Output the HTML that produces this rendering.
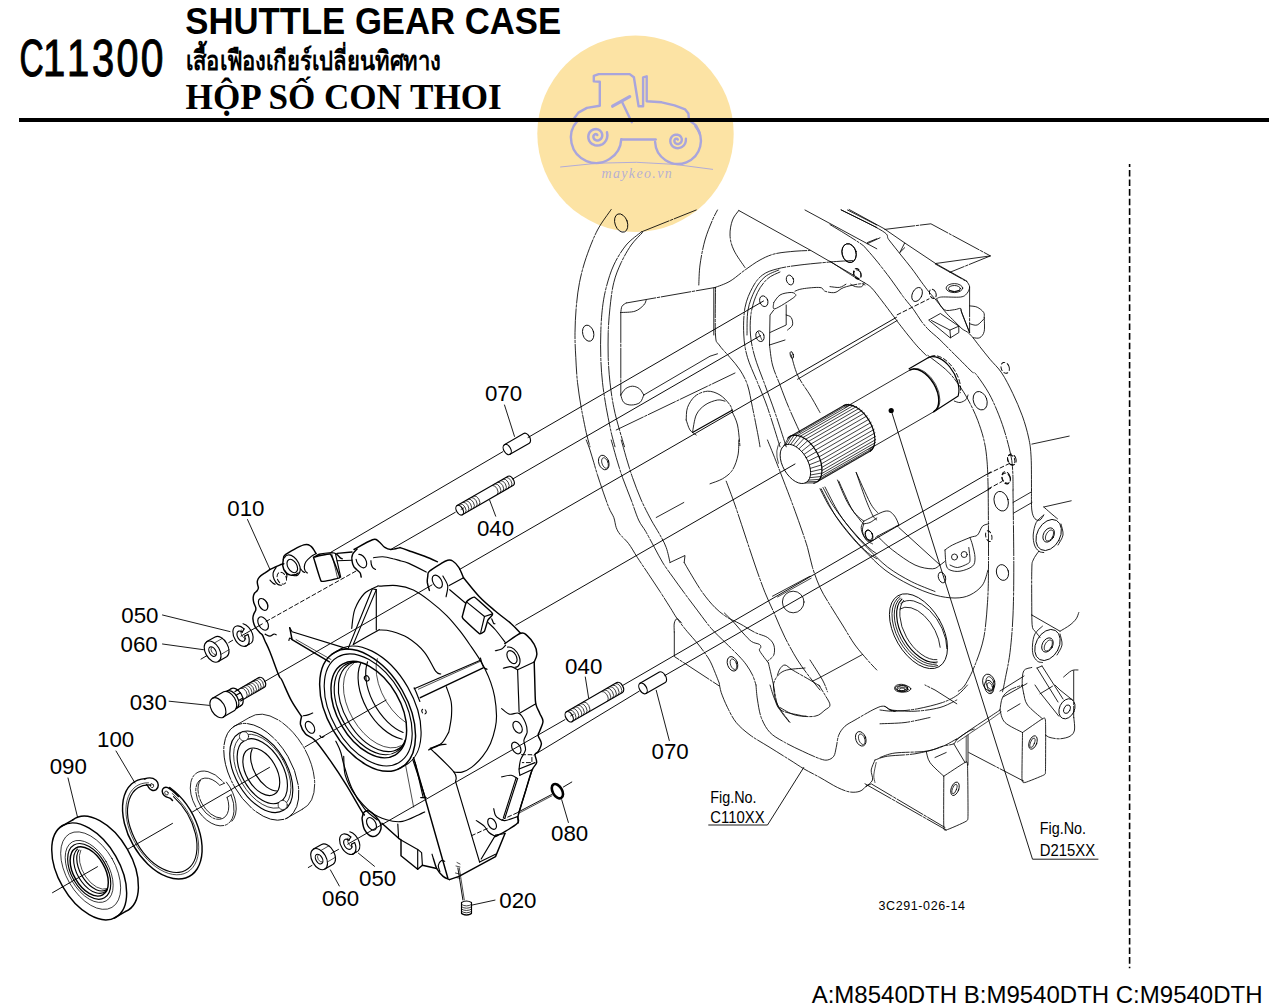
<!DOCTYPE html>
<html><head><meta charset="utf-8"><title>C11300 SHUTTLE GEAR CASE</title>
<style>
html,body{margin:0;padding:0;background:#fff;}
body{width:1269px;height:1007px;position:relative;overflow:hidden;font-family:"Liberation Sans",sans-serif;color:#000;}
#rule{position:absolute;left:19.3px;top:118.2px;width:1250px;height:3.4px;background:#000;}
#foot{position:absolute;right:6.5px;top:980px;font-size:24px;line-height:30px;white-space:nowrap;}
svg{position:absolute;left:0;top:0;overflow:visible;}
svg text{font-family:"Liberation Sans",sans-serif;fill:#000;stroke:none;}
#code text{font-size:52px;stroke:#000;stroke-width:1.1px;}
#lbl text{font-size:22.3px;}
#lbl #fig text{font-size:17.3px;}
#dg .ax{stroke-width:.95}
#dg .ld{stroke-width:.9}
#dg .pt{stroke-width:1.15}
#dg .hv{stroke-width:1.45}
#dg .thin{stroke-width:.7}
#dg .th{stroke-width:.75}
#dg .hid{stroke-width:.95;stroke-dasharray:4 2.6}
#dg .ph{stroke-width:.85;stroke-dasharray:30 1.6 2.4 1.6}
#dg .phs{stroke-width:.85}
</style></head><body>
<svg id="code" width="1269" height="1007" viewBox="0 0 1269 1007" aria-label="C11300">
<g id="ttl"><text transform="translate(185.3 33.8) scale(1 1.04)" style="font-size:34.7px;font-weight:bold;stroke:none">SHUTTLE GEAR CASE</text><text transform="translate(185.6 108.6)" style="font-family:'Liberation Serif',serif;font-size:35.1px;font-weight:bold;stroke:none">HỘP SỐ CON THOI</text></g>
<text transform="translate(19.4 75.6) scale(0.644 1)">C</text>
<text transform="translate(42.9 75.6) scale(0.77 1)">1</text>
<text transform="translate(67.1 75.6) scale(0.77 1)">1</text>
<text transform="translate(91.9 75.6) scale(0.768 1)">3</text>
<text transform="translate(116.4 75.6) scale(0.758 1)">0</text>
<text transform="translate(140.8 75.6) scale(0.785 1)">0</text>
</svg>
<svg id="wm" width="1269" height="1007" viewBox="0 0 1269 1007">
<circle cx="635.5" cy="133.7" r="98.2" fill="#fce3a4"/>
<path d="M577.4 120.9A25.2 25.2 0 1 0 621.3 139.1" fill="none" stroke="#a9a5dc" stroke-width="2.4" stroke-linecap="round" stroke-linejoin="round"/>
<path d="M621.5 139.5L655.7 139.5" fill="none" stroke="#a9a5dc" stroke-width="2.4" stroke-linecap="round" stroke-linejoin="round"/>
<path d="M655.1 142A22.9 22.9 0 1 0 695.4 126.1" fill="none" stroke="#a9a5dc" stroke-width="2.4" stroke-linecap="round" stroke-linejoin="round"/>
<path d="M573.7 119L578.4 112.6L586.9 107.9L599.8 105.7L599.8 81.8L593.8 81.4L593.8 75.8L598.7 74.1L629.7 74.1L633.9 77.3L638.6 106.2L643.1 106.2L643.1 77.3L646.7 76.3L646.7 101.2L661.7 102.3L674.5 105.3L685.2 109.4L688.4 113.6L689 120L695.9 125.4L699.7 132.9" fill="none" stroke="#a9a5dc" stroke-width="2.4" stroke-linecap="round" stroke-linejoin="round"/>
<path d="M612.6 106.2L629.7 96.6" fill="none" stroke="#a9a5dc" stroke-width="3.2" stroke-linecap="round" stroke-linejoin="round"/>
<path d="M622.2 102.3L631.8 122.2" fill="none" stroke="#a9a5dc" stroke-width="2.4" stroke-linecap="round" stroke-linejoin="round"/>
<path d="M607 132.3L607.4 135.2L607 138L606 140.6L604.3 142.8L602.2 144.4L599.7 145.3L597.2 145.6L594.7 145.2L592.4 144.2L590.6 142.7L589.2 140.8L588.5 138.6L588.3 136.4L588.7 134.3L589.6 132.4L591 130.9L592.7 129.8L594.5 129.2L596.4 129.1L598.2 129.5L599.7 130.4L601 131.6L601.8 133L602.2 134.5L602.2 136.1L601.8 137.5L601 138.7L600 139.6L598.9 140.2L597.7 140.5L596.5 140.4L595.4 140L594.5 139.4L593.9 138.6L593.5 137.7L593.4 136.8L593.5 135.9L593.9 135.2L594.4 134.7L595 134.3L595.6 134.1L596.2 134.2L596.7 134.3L597 134.6L597.3 135" fill="none" stroke="#a9a5dc" stroke-width="2.5" stroke-linecap="round" stroke-linejoin="round"/>
<path d="M685.9 138.8L685.8 141.1L685.2 143.3L683.9 145.3L682.3 146.7L680.4 147.7L678.3 148.2L676.2 148L674.3 147.4L672.6 146.3L671.4 144.8L670.6 143.1L670.3 141.2L670.4 139.5L671.1 137.8L672.1 136.4L673.4 135.4L674.9 134.8L676.4 134.6L677.9 134.8L679.3 135.3L680.4 136.2L681.2 137.4L681.7 138.6L681.8 139.9L681.6 141.1L681.1 142.2L680.3 143.1L679.4 143.7L678.3 144L677.3 144L676.4 143.8L675.6 143.3L675 142.7L674.6 142L674.4 141.2L674.4 140.5L674.7 139.8L675 139.3L675.5 138.9L676 138.7L676.6 138.6L677 138.7L677.4 139L677.7 139.2L677.8 139.6" fill="none" stroke="#a9a5dc" stroke-width="2.4" stroke-linecap="round" stroke-linejoin="round"/>
<path d="M560.2 167Q636.1 156.4 713 169.4" fill="none" stroke="#a9a5dc" stroke-width="0.9"/>
<text x="601.5" y="177.6" style="font-family:'Liberation Serif',serif;font-style:italic;font-size:14px;letter-spacing:1.35px;fill:#a9a5dc;fill-opacity:.85">maykeo.vn</text>
</svg>
<div id="rule"></div>
<svg id="thai" width="1269" height="1007" viewBox="0 0 1269 1007" role="img" aria-label="เสื้อเฟืองเกียร์เปลี่ยนทิศทาง"><text x="186" y="70.1" textLength="255" lengthAdjust="spacingAndGlyphs" style="font-family:serif;font-size:27px;font-weight:bold;fill:#000">เสื้อเฟืองเกียร์เปลี่ยนทิศทาง</text></svg>
<svg id="dg" width="1269" height="1007" viewBox="0 0 1269 1007" fill="none" stroke="#000" stroke-width="1" stroke-linecap="round" stroke-linejoin="round">
<path d="M1129.6 163.9V968.2" stroke-dasharray="6.6 3" stroke-dashoffset="3.6" stroke-width="1.6" stroke-linecap="butt"/>
<path d="M611.2 209.5C609 212.9 601.7 222 597.5 230C593.3 238 589.2 248.8 586.2 257.5C583.2 266.2 581.2 274.2 579.5 282.5C577.8 290.8 577 299.2 576.2 307.5C575.5 315.8 575.1 324.2 575 332.5C574.9 340.8 575.3 349.2 575.8 357.5C576.2 365.8 576.6 374.2 577.5 382.5C578.4 390.8 579.8 399.2 581.2 407.5C582.7 415.8 584.8 426 586.2 432.5C587.7 439 589.4 444.4 590 446.8" class="ph"/>
<path d="M641.2 232C638.8 234.2 630.8 239.5 626.2 245C621.7 250.5 617.1 257.9 613.8 265C610.4 272.1 608.1 280.4 606.2 287.5C604.4 294.6 603.4 300 602.5 307.5C601.6 315 601 324.2 600.8 332.5C600.5 340.8 600.5 349.2 600.8 357.5C601 365.8 601.6 374.2 602.5 382.5C603.4 390.8 604.8 399.2 606.2 407.5C607.7 415.8 609.8 426 611.2 432.5C612.7 439 614.4 444.4 615 446.8" class="ph"/>
<path d="M642.5 232.5C640.6 234.6 634.8 240 631.2 245C627.7 250 624.2 256.2 621.2 262.5C618.3 268.8 615.6 275 613.8 282.5C611.9 290 610.9 299.2 610 307.5C609.1 315.8 608.5 324.2 608.2 332.5C608 340.8 608 349.2 608.2 357.5C608.5 365.8 609.1 374.2 610 382.5C610.9 390.8 612.2 399.6 613.8 407.5C615.3 415.4 617.7 423.5 619.5 430C621.3 436.5 623.7 444 624.5 446.8" class="ph"/>
<path d="M641.2 232L696.2 210" class="ph"/>
<ellipse cx="621.2" cy="223" rx="6.2" ry="9.5" transform="rotate(-20 621.2 223)" class="phs"/>
<ellipse cx="588.2" cy="333.2" rx="5.5" ry="8.2" transform="rotate(-15 588.2 333.2)" class="phs"/>
<path d="M626.2 303L715 287.5" class="ph"/>
<path d="M626.2 303C625.5 303.5 622.9 304.7 622 306.2C621.1 307.8 621 311.5 620.8 312.5" class="phs"/>
<path d="M620.8 312.5C623.1 312.3 631.2 312.5 635 311.2C638.8 310 641.9 306.9 643.8 305C645.6 303.1 645.8 300.8 646.2 300" class="phs"/>
<path d="M620.8 312.5L620.8 395" class="ph"/>
<path d="M620.8 395C621.2 396.2 622 400.8 623.8 402.5C625.5 404.2 628.5 405 631.2 405C634 405 637.9 404.2 640 402.5C642.1 400.8 643.1 396.2 643.8 395" class="phs"/>
<path d="M620.8 395C621.5 394 623.5 390.2 625.5 388.8C627.5 387.3 630.2 386.2 632.5 386.2C634.8 386.2 637.6 387.3 639.5 388.8C641.4 390.2 643 394 643.8 395" class="phs"/>
<path d="M643.8 395L710 356.2L717.5 353.8" class="phs"/>
<path d="M616.2 430L735 373" class="ph"/>
<path d="M713.8 288L713.8 335" class="phs"/>
<path d="M715.5 287.5C715.5 295.4 714.9 325.4 715.5 335C716.1 344.6 716.8 341.2 719.2 345C721.7 348.8 726.5 353.3 730 357.5C733.5 361.7 737.1 365.4 740 370C742.9 374.6 745.4 378.8 747.5 385C749.6 391.2 750.8 399.6 752.5 407.5C754.2 415.4 756.2 426 757.5 432.5C758.8 439 759.6 444.4 760 446.8" class="ph"/>
<path d="M698.8 285C699 281.7 699 272.5 700 265C701 257.5 702.9 247.5 705 240C707.1 232.5 710.4 225 712.5 220C714.6 215 716.7 211.7 717.5 210" class="ph"/>
<path d="M738.8 210.5C737.7 212.1 734 215.9 732.5 220C731 224.1 729.8 230 730 235C730.2 240 731.2 244.6 733.8 250C736.2 255.4 743.1 264.6 745 267.5" class="ph"/>
<path d="M738.8 210.5L810 250L857.5 277.5" class="phs"/>
<path d="M715 287.5C717.5 286.5 725 284.2 730 281.2C735 278.3 740 273.5 745 270C750 266.5 755 262.7 760 260C765 257.3 769.2 255.2 775 253.8C780.8 252.3 789.2 251.8 795 251.2C800.8 250.7 807.5 250.6 810 250.5" class="ph"/>
<path d="M780 446.8C777.9 440.2 771.2 418.2 767.5 407.5C763.8 396.8 760.8 390.8 757.5 382.5C754.2 374.2 749.8 365.4 747.5 357.5C745.2 349.6 744.2 343.3 743.8 335C743.3 326.7 743.5 315.4 745 307.5C746.5 299.6 749.6 292.9 752.5 287.5C755.4 282.1 758.3 278.1 762.5 275C766.7 271.9 771.2 270.4 777.5 268.8C783.8 267.1 791.2 266.1 800 265C808.8 263.9 821.2 262.8 830 262C838.8 261.2 848.8 260.8 852.5 260.5" class="ph"/>
<path d="M786.2 446.8C784.4 441 778.5 422.8 775 412.5C771.5 402.2 768.3 394.2 765 385C761.7 375.8 757.4 365.8 755 357.5C752.6 349.2 751.1 342.5 750.5 335C749.9 327.5 750.1 319.6 751.2 312.5C752.4 305.4 754.8 298.1 757.5 292.5C760.2 286.9 763.8 282.2 767.5 278.8C771.2 275.3 777.9 273.1 780 272" class="ph"/>
<path d="M747 335C747.2 330.8 746.7 317.5 748 310C749.3 302.5 752.2 295.5 755 290C757.8 284.5 761 280.1 765 276.8C769 273.4 776.5 271.1 778.8 270" class="phs"/>
<path d="M773.8 302.5C774.8 301.2 777.3 296.7 780 295C782.7 293.3 787.5 292.7 790 292.5C792.5 292.3 794.4 292.9 795 293.8C795.6 294.6 797.1 295 793.8 297.5C790.4 300 778.3 307.9 775 308.8C771.7 309.6 774 303.5 773.8 302.5" class="phs"/>
<path d="M795 291.2C796.2 290.8 798.3 289.4 802.5 288.8C806.7 288.1 816.2 287.1 820 287.5C823.8 287.9 822.5 290.4 825 291.2C827.5 292.1 831.9 293.1 835 292.5C838.1 291.9 839.6 289 843.8 287.5C847.9 286 856.5 284.2 860 283.8C863.5 283.3 864.2 284.8 865 285" class="ph"/>
<path d="M773.8 310L770 315L769.5 345" class="phs"/>
<path d="M786.2 305L786.2 325L770 332.5" class="phs"/>
<path d="M786.2 315C787.1 315.4 790.2 315.8 791.2 317.5C792.3 319.2 793.1 322.9 792.5 325C791.9 327.1 788.3 329.2 787.5 330" class="phs"/>
<path d="M769.5 345L785 340" class="ph"/>
<path d="M769.5 345C770 348.3 770.8 358.3 772.5 365C774.2 371.7 777.3 377.9 780 385C782.7 392.1 785.4 399.6 788.8 407.5C792.1 415.4 798.1 428.3 800 432.5" class="ph"/>
<path d="M791.2 355C792.3 358.3 794.4 368.3 797.5 375C800.6 381.7 806.2 388.8 810 395C813.8 401.2 818.3 409.6 820 412.5" class="ph"/>
<ellipse cx="791.8" cy="355" rx="1.5" ry="3.5" transform="rotate(-15 791.8 355)" class="phs"/>
<ellipse cx="849.2" cy="253" rx="7" ry="9.5" transform="rotate(-15 849.2 253)" class="phs"/>
<ellipse cx="857.5" cy="274.5" rx="3.5" ry="4.8" transform="rotate(-20 857.5 274.5)" class="hid"/>
<ellipse cx="790" cy="280" rx="3.5" ry="5" transform="rotate(-20 790 280)" class="phs"/>
<ellipse cx="763.8" cy="301.2" rx="4" ry="5.5" transform="rotate(-20 763.8 301.2)" class="phs"/>
<ellipse cx="760" cy="336.2" rx="4" ry="5.5" transform="rotate(-20 760 336.2)" class="phs"/>
<path d="M758.2 332L762 340" class="thin"/>
<path d="M805 210L876.8 248.8" class="phs"/>
<path d="M841.2 210L876.8 227.5" class="phs"/>
<path d="M847.5 210L876.8 225" class="phs"/>
<path d="M867.5 242.5L876.8 238.8" class="phs"/>
<path d="M686.2 420C686.5 417.9 686 411.5 687.5 407.5C689 403.5 691.7 399 695 396.2C698.3 393.5 703.3 391.5 707.5 391.2C711.7 391 716.2 392.7 720 395C723.8 397.3 727.9 402.1 730 405C732.1 407.9 732.1 411.2 732.5 412.5" class="ph"/>
<path d="M692.5 432.5C693.1 429.6 694.2 419.6 696.2 415C698.3 410.4 701.5 407.5 705 405C708.5 402.5 714.2 400.6 717.5 400C720.8 399.4 723.8 401 725 401.2" class="phs"/>
<path d="M692.5 432.5L732.5 410" class="pt"/>
<path d="M686.2 420C686.9 421.7 688.3 427.5 690 430C691.7 432.5 695.2 434.2 696.2 435" class="phs"/>
<path d="M732.5 412.5C733.3 414.6 736.2 419.3 737.5 425C738.8 430.7 739.6 443.1 740 446.8" class="ph"/>
<path d="M797.5 379.3L897.2 320.5" class="phs"/>
<path d="M830 261.2C833.4 263.4 845 271.1 850.7 274.7C856.3 278.2 860.6 280.4 864.2 282.6C867.7 284.8 868.8 285.1 871.8 288.1C874.7 291.2 878.3 296.2 881.9 300.8C885.5 305.5 890.2 311.8 893.4 316.1C896.6 320.3 898 322.4 901 326.2C904 330.1 908.2 335.4 911.2 339C914.1 342.6 916.2 345.1 918.8 347.9C921.3 350.6 925.1 354.2 926.4 355.5" class="phs"/>
<path d="M927.8 355.4C931.1 358 942.3 366 947.7 371.3C953.1 376.6 956.7 381.9 960.4 387.2C964.1 392.5 967 397.6 969.9 403.1C972.8 408.7 975.4 414.1 977.8 420.5C980.2 426.9 982.7 434.3 984.2 441.2C985.8 448.1 986.4 453.8 987.1 461.9C987.8 470 988 485.3 988.2 490" class="ph"/>
<path d="M830 224.6C832.6 226.2 840.6 230.9 845.9 234.2C851.2 237.5 858.2 241.9 861.8 244.5C865.4 247.1 864.6 247 867.3 250C870 253 874.2 257.8 878.1 262.7C882 267.6 886.6 273.5 890.8 279.2C895.1 284.9 899.7 291.9 903.5 297C907.4 302.1 910.7 305.7 913.7 309.7C916.7 313.8 918.8 317.8 921.3 321.2C923.9 324.6 926 327.1 929 330.1C931.9 333 935.3 335.4 939.1 339C942.9 342.6 948 347.9 951.8 351.7C955.6 355.5 958.6 358.4 962 361.8C965.4 365.2 969.8 369.9 972.2 372C974.5 374.1 973.5 370.9 976.3 374.5C979.1 378.1 985.3 386.9 989 393.5C992.7 400.1 995.7 407.3 998.5 414.2C1001.3 421.1 1003.5 427.6 1005.6 434.8C1007.7 442 1010 450.7 1011.2 457.1C1012.4 463.5 1012.5 467.5 1012.8 473C1013.1 478.5 1013 487.2 1013.1 490" class="ph"/>
<path d="M841.1 209.8C848 213.3 874.5 226 882.4 231C890.3 236 885.7 235.7 888.8 239.7C891.9 243.7 897.3 250.4 901 255.1C904.7 259.8 907.8 263.3 911.2 267.8C914.6 272.2 918.4 277.7 921.3 281.8C924.3 285.8 926.4 288.8 929 291.9C931.5 295.1 933.6 297.2 936.6 300.8C939.5 304.4 943.8 310.2 946.7 313.5C949.7 316.9 951.8 318.6 954.4 321.2C956.9 323.7 959.5 326.7 962 328.8C964.5 330.9 966.7 330.9 969.6 333.9C972.6 336.8 976.4 342.3 979.8 346.6C983.2 350.8 986.3 354.9 990 359.3C993.6 363.7 997.9 367.2 1001.7 372.9C1005.5 378.6 1009.4 386.4 1012.8 393.5C1016.2 400.6 1019.6 408.4 1022.3 415.8C1025 423.2 1027.2 431.1 1028.7 438C1030.2 444.9 1030.6 448.4 1031.1 457.1C1031.6 465.8 1031.4 484.5 1031.5 490" class="phs"/>
<path d="M849.1 209.5L884 228.6L904.7 242.9L899.9 252.4" class="phs"/>
<path d="M884.8 229.4L930.9 223.8L990.4 255.9L949.9 272.3" class="ph"/>
<path d="M990.4 255.9L935.6 263.5" class="phs"/>
<path d="M904.7 242.9L935.6 263.5L966.6 281" class="phs"/>
<path d="M867.3 243.7L880 237.8" class="phs"/>
<path d="M899.9 252.4L904.7 247.7" class="phs"/>
<ellipse cx="849" cy="253.2" rx="7" ry="9.6" transform="rotate(-15 849 253.2)" class="phs"/>
<ellipse cx="857.2" cy="273.5" rx="3.6" ry="5.1" transform="rotate(-20 857.2 273.5)" class="hid"/>
<ellipse cx="917.1" cy="294.5" rx="4.8" ry="7.4" transform="rotate(25 917.1 294.5)" class="phs"/>
<ellipse cx="932.8" cy="293.8" rx="3.2" ry="4.8" transform="rotate(-20 932.8 293.8)" class="hid"/>
<ellipse cx="980.2" cy="400.7" rx="6.7" ry="9.5" transform="rotate(-20 980.2 400.7)" class="phs"/>
<ellipse cx="1005.2" cy="367.8" rx="4" ry="5.6" transform="rotate(-20 1005.2 367.8)" class="hid"/>
<ellipse cx="1012" cy="459.5" rx="4" ry="5.6" transform="rotate(-20 1012 459.5)" class="hid"/>
<ellipse cx="1006.1" cy="478.5" rx="4" ry="5.6" transform="rotate(-20 1006.1 478.5)" class="hid"/>
<path d="M897.2 314.8L929 298.9" class="hid"/>
<path d="M988.2 473.8L1009.6 463.4" class="hid"/>
<path d="M988.2 488.9L1001.7 481.7" class="hid"/>
<path d="M1031.9 444.1L1069.2 436.1" class="phs"/>
<ellipse cx="954.4" cy="288.1" rx="8.3" ry="4.5" class="phs"/><ellipse cx="954.4" cy="288.6" rx="6" ry="3.1" class="phs"/><path d="M949 290.3Q954.4 293 959.8 290.3" class="phs"/>
<path d="M935.3 264L967.1 281.8" class="ph"/>
<path d="M967.1 281.8C967.5 282.6 969.6 285 969.6 286.9C969.6 288.8 968.6 291.5 967.1 293.2C965.6 294.9 964.9 296.4 960.7 297C956.5 297.6 945.7 296.7 941.7 297C937.7 297.3 937.5 298.6 936.6 298.9" class="phs"/>
<path d="M969.6 286.9L969.6 332.6" class="ph"/>
<path d="M936.6 298.9C937.9 300.7 941.2 307.9 944.2 309.7C947.2 311.5 951.6 309.9 954.4 309.7C957.1 309.5 959.4 307.9 960.7 308.5C962 309.1 960.5 309.5 962 313.5C963.5 317.5 968.3 329.4 969.6 332.6" class="phs"/>
<path d="M960.7 309.7L969.6 332.6" class="phs"/>
<path d="M969.6 305.9C970.9 306.1 974.9 306.1 977.2 307.2C979.5 308.3 982.4 310.6 983.6 312.3C984.8 314 984.1 316.5 984.2 317.4" class="phs"/>
<path d="M984.2 317.4C984.2 319.7 984.9 327.9 984.2 331.3C983.5 334.7 981.6 336.6 979.8 337.7C978 338.8 974.5 337.7 973.4 337.7" class="phs"/>
<path d="M969.6 323.7C970.9 323.9 974.8 325.9 977.2 325C979.6 324.1 983 319.7 984.2 318.6" class="phs"/>
<path d="M929 319.9L940.4 313.5L958.8 326.2L958.8 332.6L950.6 337.7Z" class="phs"/>
<path d="M950.6 337.7L949.9 330.1L958.8 326.2" class="phs"/>
<path d="M949.9 330.1L931.5 320.5" class="phs"/>
<path d="M830 286.6C831.6 286.7 836.9 287.8 839.5 287.4C842.2 287 844.8 284.7 845.9 284.2" class="ph"/>
<path d="M864.2 282.6C863.8 283.3 863.2 285.9 861.8 286.6C860.3 287.2 857.3 287 855.4 286.6C853.6 286.2 851.4 284.6 850.7 284.2" class="phs"/>
<ellipse cx="795.4" cy="463.9" rx="12.5" ry="21.5" transform="rotate(-30 795.4 463.9)" class="phs"/><path d="M787.8 438.1A15.4 26.5 -30 1 1 813.9 483.3" class="pt"/><path d="M778.4 463.3A15.4 26.5 -30 0 1 780.4 442.2" class="thin"/><path d="M783.7 445.9L788.8 437.2" class="th"/><path d="M785.7 444.8L791.3 435.8" class="th"/><path d="M788.1 444.3L794.2 435.2" class="th"/><path d="M790.6 444.5L797.3 435.4" class="th"/><path d="M793.4 445.3L800.7 436.5" class="th"/><path d="M796.2 446.8L804.1 438.3" class="th"/><path d="M798.9 448.8L807.6 440.8" class="th"/><path d="M801.6 451.4L810.8 444" class="th"/><path d="M804 454.4L813.9 447.6" class="th"/><path d="M806.2 457.7L816.5 451.7" class="th"/><path d="M808 461.2L818.7 456" class="th"/><path d="M809.3 464.8L820.4 460.5" class="th"/><path d="M810.2 468.4L821.5 464.9" class="th"/><path d="M810.6 471.8L822 469.1" class="th"/><path d="M810.5 475L821.8 473" class="th"/><path d="M809.9 477.7L821 476.5" class="th"/><path d="M808.7 480.1L819.6 479.3" class="th"/><path d="M807.1 481.8L817.7 481.5" class="th"/><path d="M805.2 483L815.2 482.9" class="th"/><path d="M790.4 436.2L844.1 405.2" class="th"/><path d="M792.6 435.4L846.3 404.4" class="th"/><path d="M794.9 435.2L848.6 404.2" class="th"/><path d="M797.5 435.5L851.2 404.5" class="th"/><path d="M800.1 436.3L853.8 405.3" class="th"/><path d="M802.9 437.5L856.6 406.5" class="th"/><path d="M805.6 439.3L859.3 408.3" class="th"/><path d="M808.3 441.5L862 410.5" class="th"/><path d="M810.9 444L864.6 413" class="th"/><path d="M813.3 446.9L867 415.9" class="th"/><path d="M815.5 450.1L869.2 419.1" class="th"/><path d="M817.4 453.4L871.1 422.4" class="th"/><path d="M819.1 456.9L872.8 425.9" class="th"/><path d="M820.4 460.4L874.1 429.4" class="th"/><path d="M821.3 463.9L875 432.9" class="th"/><path d="M821.8 467.4L875.5 436.4" class="th"/><path d="M822 470.6L875.7 439.6" class="th"/><path d="M821.7 473.6L875.4 442.6" class="th"/><path d="M821.1 476.3L874.8 445.3" class="th"/><path d="M820 478.7L873.7 447.7" class="th"/><path d="M818.6 480.6L872.3 449.6" class="th"/><path d="M816.9 482.1L870.6 451.1" class="th"/><path d="M843.6 405.5A15.4 26.5 -30 0 1 870.1 451.3" class="pt"/><path d="M844.9 407.6L909.8 370.1" class="phs"/><path d="M868.9 449.2L933.8 411.7" class="phs"/><path d="M909.8 370.1A13.9 24 -30 0 1 933.8 411.7" class="hv"/><path d="M913.4 368.5A13.9 24 -30 0 1 936.1 410.2" class="thin"/><path d="M909.1 368.8L928.1 357.8" class="pt"/><path d="M928.1 357.8A14.8 25.5 -30 0 1 958.3 395.3" class="pt"/><path d="M931 356.3A14.8 25.5 -30 0 1 960.4 392.7" class="hid"/><path d="M933.8 411.7L958.2 395.9" class="pt"/>
<path d="M954.3 401C955.2 401.2 958 402.8 960 402.5C962 402.2 964.7 400.8 966 399.5C967.3 398.2 967.7 395.8 968 395" class="phs"/>
<path d="M586.2 440C586.9 441.7 588.8 446.2 590 450C591.2 453.8 592.5 458.3 593.8 462.5C595 466.7 596 470.4 597.5 475C599 479.6 600.6 484.6 602.5 490C604.4 495.4 606.9 502.9 608.8 507.5C610.6 512.1 612.5 514.2 613.8 517.5C615 520.8 615.2 524.7 616.2 527.5C617.3 530.3 617.9 531.6 620 534.3C622.1 537 625.7 539.8 628.6 543.6C631.5 547.4 633.9 552.1 637.2 557.2C640.5 562.3 644.8 568.6 648.6 574.3C652.4 580 656.4 586 660 591.5C663.6 597 667.1 602.7 670 607.2C672.9 611.7 674.3 614.7 677.2 618.7C680.1 622.8 683.9 627.5 687.2 631.5C690.5 635.5 694.1 639.2 697.2 643C700.3 646.8 703.4 650.9 705.8 654.4C708.2 657.9 709.3 659.2 711.5 664C713.7 668.8 717.9 679.8 719.2 683" class="ph"/>
<path d="M611.2 440C612.1 442.9 614.4 451.2 616.2 457.5C618.1 463.8 620 470.4 622.5 477.5C625 484.6 628.6 492.9 631.2 500C633.9 507.1 636.2 514.8 638.6 520C641 525.2 643.1 526.9 645.7 531.4C648.3 535.9 651.4 542 654.3 547.2C657.2 552.5 659.8 557.9 662.9 562.9C666 567.9 669.3 572.2 672.9 577.2C676.5 582.2 680.2 587.4 684.3 592.9C688.3 598.4 692.7 604.1 697.2 610.1C701.7 616.1 706.7 623.2 711.5 628.7C716.3 634.2 721.3 638.5 725.8 643C730.3 647.5 735.2 652.1 738.7 655.8C742.2 659.5 744.2 661.8 746.5 665C748.8 668.2 750.9 671.7 752.5 675C754.1 678.3 755.4 683.3 756 685" class="ph"/>
<path d="M621.2 440C622.1 442.9 624.4 451.2 626.2 457.5C628.1 463.8 630 470.4 632.5 477.5C635 484.6 638.1 492.9 641.2 500C644.4 507.1 648.1 514.2 651.2 520C654.4 525.8 657.5 530.4 660 535C662.5 539.6 664.6 542.9 666.2 547.5C667.9 552.1 669.4 560 670 562.5" class="ph"/>
<path d="M670 562.5L685 555.5L684.2 562.5" class="phs"/>
<path d="M684.2 562.5C685.2 564.2 687 567.5 690 572.5C693 577.5 698.3 586.7 702.5 592.5C706.7 598.3 710.8 603.3 715 607.5C719.2 611.7 723.3 614.8 727.5 617.5C731.7 620.2 735.4 621.2 740 623.8C744.6 626.2 750.4 630.2 755 632.5C759.6 634.8 764.4 635.4 767.5 637.5C770.6 639.6 772.7 642.1 773.8 645C774.8 647.9 774.8 652.3 773.8 655C772.7 657.7 768.5 660.2 767.5 661.2" class="ph"/>
<path d="M656.2 517.5L683.8 502.5" class="phs"/>
<ellipse cx="603.8" cy="462.5" rx="5" ry="7.5" transform="rotate(-20 603.8 462.5)" class="phs"/>
<ellipse cx="605" cy="463" rx="3" ry="5.5" transform="rotate(-20 605 463)" class="thin"/>
<path d="M738.8 440C738.6 442.5 739 450 738 455C737 460 735.1 466 732.5 470C729.9 474 726.2 476.5 722.5 478.8C718.8 481 712.1 482.9 710 483.8" class="ph"/>
<path d="M726.2 481.2C727.7 485.2 731.9 496 735 505C738.1 514 741.7 525 745 535C748.3 545 751.7 555.4 755 565C758.3 574.6 761.7 584.2 765 592.5C768.3 600.8 771.7 607.5 775 615C778.3 622.5 781.2 630 785 637.5C788.8 645 793.3 653.3 797.5 660C801.7 666.7 806.2 672.5 810 677.5C813.8 682.5 818.3 687.9 820 690" class="ph"/>
<path d="M767.5 440C769.2 444.2 773.8 455.4 777.5 465C781.2 474.6 786.2 487.5 790 497.5C793.8 507.5 797.1 516.7 800 525C802.9 533.3 805.4 540.4 807.5 547.5C809.6 554.6 810.4 560.8 812.5 567.5C814.6 574.2 817.1 581.2 820 587.5C822.9 593.8 826.2 598.8 830 605C833.8 611.2 838.3 618.3 842.5 625C846.7 631.7 850.8 639.2 855 645C859.2 650.8 863.9 655.8 867.5 660C871.1 664.2 875.2 668.3 876.8 670" class="ph"/>
<path d="M820 488.8C821.7 491.9 826.2 501.5 830 507.5C833.8 513.5 838.3 519.6 842.5 525C846.7 530.4 850.8 535.4 855 540C859.2 544.6 863.9 549.4 867.5 552.5C871.1 555.6 875.2 557.7 876.8 558.8" class="phs"/>
<path d="M823 487.5C824.7 490.5 829.2 499.7 833 505.5C836.8 511.3 841.3 517.2 845.5 522.5C849.7 527.8 853.9 532.6 858 537C862.1 541.4 866.9 546 870 548.8C873.1 551.5 875.6 552.9 876.8 553.8" class="phs"/>
<path d="M837.5 480C839.2 483.8 843.8 495.8 847.5 502.5C851.2 509.2 857.3 516.5 860 520C862.7 523.5 863.1 523.1 863.8 523.8" class="phs"/>
<path d="M856.2 472.5C857.7 476.7 862.3 490.4 865 497.5C867.7 504.6 870.5 511.2 872.5 515C874.5 518.8 876 519.2 876.8 520" class="phs"/>
<path d="M863.8 523.8C864.8 523.5 867.8 523.5 870 522.5C872.2 521.5 875.6 518.8 876.8 518" class="phs"/>
<path d="M863.8 523.8C863.5 525 862.1 528.5 862.5 531.2C862.9 534 864.6 537.9 866.2 540C867.9 542.1 871.5 543.1 872.5 543.8" class="phs"/>
<ellipse cx="869.2" cy="535.5" rx="3.5" ry="5.5" transform="rotate(-20 869.2 535.5)" class="phs"/>
<circle cx="793.2" cy="602" r="10.8" class="phs"/>
<path d="M772.5 596.2L810 576.2" class="phs"/>
<path d="M777.5 597L811.2 578.2" class="thin"/>
<path d="M681.5 623C680.8 622.3 678.4 618.7 677.2 618.7C676 618.7 674.8 620.8 674.3 623C673.8 625.2 674.3 630.5 674.3 632" class="phs"/>
<path d="M674.3 632L674.3 656.5L719.3 686" class="ph"/>
<path d="M724.4 613C726.1 614.7 731.3 619.7 734.4 623C737.5 626.3 740.1 629.9 743 633C745.9 636.1 748.8 639.6 751.5 641.5C754.2 643.4 757.9 643.4 759.4 644.4C760.9 645.4 760.8 646.2 760.8 647.2C760.8 648.2 759 648.7 759.4 650.1C759.8 651.5 761.5 653.7 763 655.8C764.5 657.9 767.5 661.7 768.4 662.9" class="phs"/>
<path d="M768.4 662.9C769.2 666.3 771.6 676.4 773.2 683.5C774.8 690.6 775.3 699.4 777.9 705.8C780.5 712.2 787.1 719.1 789 721.7" class="ph"/>
<path d="M805 668C801.5 668.5 789.3 668.7 784.3 670.8C779.2 672.9 776.4 676.9 774.7 680.4C773 683.9 773.2 686.7 774 691.5C774.8 696.3 775.2 705 779.5 709C783.8 713 795.6 714.1 800 715.3C804.4 716.5 805 715.9 806 716" class="ph"/>
<path d="M777.5 675C777.9 674 778.8 670.4 780 668.8C781.2 667.1 782.9 664.8 785 665C787.1 665.2 788.3 667.5 792.5 670C796.7 672.5 805.4 677.3 810 680C814.6 682.7 818.3 685.2 820 686.2" class="ph"/>
<path d="M812.5 681.2L820 677.5L862.5 654.5" class="phs"/>
<ellipse cx="732.5" cy="663.8" rx="5" ry="7.5" transform="rotate(-20 732.5 663.8)" class="phs"/>
<ellipse cx="733.5" cy="664.2" rx="3" ry="5.5" transform="rotate(-20 733.5 664.2)" class="thin"/>
<path d="M988.2 490C988.3 502.5 988.6 546.2 988.5 565C988.4 583.8 988.3 590.4 987.5 602.5C986.7 614.6 985.8 627.1 983.8 637.5C981.7 647.9 978.1 657.1 975 665C971.9 672.9 967.9 680.5 965 685C962.1 689.5 958.8 690.6 957.5 691.8" class="ph"/>
<path d="M1013 490C1013.1 502.5 1013.8 544.2 1013.8 565C1013.8 585.8 1013.6 600.4 1013 615C1012.4 629.6 1011.3 641.7 1010 652.5C1008.7 663.3 1006.2 673.5 1005 680C1003.8 686.5 1002.9 689.8 1002.5 691.8" class="ph"/>
<path d="M1031.5 490C1031.5 493.3 1031.2 505.2 1031.8 510C1032.3 514.8 1033.6 517.1 1035 518.8C1036.4 520.4 1038.5 520.6 1040 520C1041.5 519.4 1043.1 515.8 1043.8 515" class="phs"/>
<path d="M1013 502.5L1031.2 492" class="phs"/>
<path d="M1013.8 513L1032 502.5" class="phs"/>
<path d="M1043.8 507L1071.2 500.8" class="phs"/>
<ellipse cx="1048.7" cy="535" rx="11.5" ry="16.5" transform="rotate(28 1048.7 535)" class="phs"/><ellipse cx="1048.7" cy="535" rx="5.2" ry="7.6" transform="rotate(28 1048.7 535)" class="phs"/><ellipse cx="1049.5" cy="535.5" rx="3.4" ry="6" transform="rotate(28 1049.5 535.5)" class="thin"/>
<ellipse cx="1047.5" cy="645" rx="11.5" ry="16.5" transform="rotate(28 1047.5 645)" class="phs"/><ellipse cx="1047.5" cy="645" rx="5.2" ry="7.6" transform="rotate(28 1047.5 645)" class="phs"/><ellipse cx="1048.3" cy="645.5" rx="3.4" ry="6" transform="rotate(28 1048.3 645.5)" class="thin"/>
<path d="M1043.8 515C1042.5 516.2 1038 519.2 1036.2 522.5C1034.5 525.8 1033.5 531.2 1033.2 535C1033 538.8 1033.6 542.3 1034.5 545C1035.4 547.7 1037.2 550 1038.8 551.2C1040.3 552.5 1042.9 552.3 1043.8 552.5" class="phs"/>
<path d="M1038.8 551.2C1037.8 552.7 1034.4 556.9 1033.2 560C1032.1 563.1 1032 560.8 1031.8 570C1031.5 579.2 1031.8 607.5 1031.8 615" class="ph"/>
<path d="M1031.8 615C1031.9 617.1 1031.8 624.6 1032.5 627.5C1033.2 630.4 1035 630.8 1036.2 632.5C1037.5 634.2 1039.4 636.7 1040 637.5" class="phs"/>
<path d="M1042.5 626.2C1041.2 627.5 1036.7 630.6 1035 633.8C1033.3 636.9 1032.8 641.5 1032.5 645C1032.2 648.5 1032.4 652.3 1033.2 655C1034.1 657.7 1036 660 1037.5 661.2C1039 662.5 1041.7 662.3 1042.5 662.5" class="phs"/>
<path d="M1031.8 615L1060 631.2" class="phs"/>
<path d="M1060 631.2C1061.7 630.2 1067.3 627.1 1070 625C1072.7 622.9 1074.8 620.8 1076.2 618.8C1077.7 616.7 1078.3 613.5 1078.8 612.5" class="phs"/>
<path d="M1043.8 507C1044.8 507.9 1047.7 510.5 1050 512.5C1052.3 514.5 1056.2 517.7 1057.5 518.8" class="phs"/>
<ellipse cx="1001.2" cy="501.2" rx="7" ry="10" transform="rotate(-15 1001.2 501.2)" class="phs"/>
<ellipse cx="1002.5" cy="572.5" rx="6" ry="8" transform="rotate(-15 1002.5 572.5)" class="phs"/>
<ellipse cx="988.8" cy="682.5" rx="6" ry="8.5" transform="rotate(-15 988.8 682.5)" class="phs"/>
<ellipse cx="990" cy="683" rx="3.8" ry="6.5" transform="rotate(-15 990 683)" class="thin"/>
<ellipse cx="988.8" cy="536.2" rx="3" ry="5.5" transform="rotate(-15 988.8 536.2)" class="hid"/>
<ellipse cx="1011.2" cy="460" rx="3.5" ry="5.2" transform="rotate(-20 1011.2 460)" class="hid"/>
<ellipse cx="1006.2" cy="477.5" rx="4" ry="6" transform="rotate(-20 1006.2 477.5)" class="hid"/>
<path d="M945 550C946.2 549.2 948.3 547.1 952.5 545C956.7 542.9 965.8 539.2 970 537.5C974.2 535.8 975.4 536.9 977.5 535C979.6 533.1 980.6 528.1 982.5 526.2C984.4 524.4 987.7 524.2 988.8 523.8" class="phs"/>
<path d="M945 550C945.2 552.5 945.4 561.7 946.2 565C947.1 568.3 947.7 569 950 570C952.3 571 956.2 571.9 960 571.2C963.8 570.6 970 568.5 972.5 566.2C975 564 975 561 975 557.5C975 554 973.3 548.3 972.5 545C971.7 541.7 970.4 538.8 970 537.5" class="phs"/>
<path d="M950 565C951.2 565.4 954.6 567.7 957.5 567.5C960.4 567.3 965.4 565 967.5 563.8C969.6 562.5 969.8 562.7 970 560C970.2 557.3 969 549.6 968.8 547.5" class="phs"/>
<circle cx="954.5" cy="557" r="3" class="phs"/><circle cx="964.2" cy="554.5" r="3" class="phs"/>
<ellipse cx="942" cy="577.5" rx="3.5" ry="5.5" transform="rotate(-20 942 577.5)" class="phs"/>
<path d="M821.2 488.8C823.5 493.1 830.2 507.3 835 515C839.8 522.7 845.2 529.2 850 535C854.8 540.8 857.9 544.2 863.8 550C869.6 555.8 877.3 564.2 885 570C892.7 575.8 901.7 580.8 910 585C918.3 589.2 927.5 592.8 935 595C942.5 597.2 949.2 598 955 598C960.8 598 965.4 597.2 970 595C974.6 592.8 979.5 589.2 982.5 585C985.5 580.8 987.1 572.5 988 570" class="phs"/>
<path d="M825 487C827.3 491.3 834 505.3 838.8 513C843.5 520.7 849 527.2 853.8 533C858.5 538.8 861.9 542.3 867.5 548C873.1 553.7 880.2 561.4 887.5 567C894.8 572.6 903.3 577.4 911.2 581.5C919.2 585.6 931 589.8 935 591.5" class="phs"/>
<path d="M838.8 481.2C841 486 848.3 503.3 852.5 510C856.7 516.7 861.9 519.4 863.8 521.2" class="phs"/>
<path d="M856.2 472.5C858.5 477.5 866.5 495.8 870 502.5C873.5 509.2 876.2 510.8 877.5 512.5" class="phs"/>
<path d="M863.8 521.2C867.3 519.6 880 512.3 885 511.2C890 510.2 891.5 512.7 893.8 515C896 517.3 898.3 523.1 898.8 525C899.2 526.9 896.7 526 896.2 526.2" class="phs"/>
<path d="M863.8 521.2C863.3 522.3 861.2 525 861.2 527.5C861.2 530 862.3 534 863.8 536.2C865.2 538.5 868 540.8 870 541.2C872 541.7 874.2 539.6 875.5 538.8C876.8 537.9 873.6 538.5 877.5 536.2C881.4 534 895.2 526.9 898.8 525" class="phs"/>
<ellipse cx="868.8" cy="535" rx="3.5" ry="5.2" transform="rotate(-20 868.8 535)" class="phs"/>
<path d="M898.8 527.5L940 565" class="phs"/>
<path d="M877.5 536.2C880 538.5 886.2 545.2 892.5 550C898.8 554.8 908.3 561.9 915 565C921.7 568.1 928.3 568.8 932.5 568.8C936.7 568.8 937.9 566.2 940 565C942.1 563.8 944.2 561.9 945 561.2" class="phs"/>
<ellipse cx="918.5" cy="631.2" rx="23.8" ry="41" transform="rotate(-30 918.5 631.2)" class="phs"/>
<path d="M937.6 665.6A22.9 39.5 -30 0 1 900 596.3" class="phs"/>
<path d="M936.4 664.1A22 38 -30 0 1 900.4 598" class="phs"/>
<path d="M937.3 662A21.2 36.5 -30 0 1 901.9 599.2" class="pt"/>
<path d="M936.9 659.7A20.3 35 -30 0 1 903.7 600.3" class="phs"/>
<path d="M900.7 603.6A21.2 36.5 -30 0 1 946.9 648.6" class="phs"/>
<path d="M899.9 609A19.1 33 -30 0 1 940.2 647.3" class="phs"/>
<path d="M810 660C812.1 663.3 819.6 674.7 822.5 680C825.4 685.3 826.7 689.8 827.5 691.8" class="ph"/>
<ellipse cx="901.2" cy="687.5" rx="6.5" ry="3.2" class="phs"/>
<path d="M719.2 683C719.5 684.6 719.9 688.4 721.2 692.5C722.6 696.6 725 702.5 727.5 707.5C730 712.5 732.5 717.9 736.2 722.5C740 727.1 744.4 730.8 750 735C755.6 739.2 763.3 743.3 770 747.5C776.7 751.7 784.4 756.5 790 760C795.6 763.5 798.8 765.8 803.8 768.8C808.8 771.7 814.4 774.4 820 777.5C825.6 780.6 832.5 785.1 837.5 787.5C842.5 789.9 846.2 791.4 850 792C853.8 792.6 857.3 792.2 860 791.2C862.7 790.3 865.2 787.1 866.2 786.2" class="ph"/>
<path d="M756 685C756.2 687.5 756.6 694.6 757.5 700C758.4 705.4 759.2 712.1 761.2 717.5C763.3 722.9 766 728.3 770 732.5C774 736.7 779.6 739.4 785 742.5C790.4 745.6 796.7 748.5 802.5 751.2C808.3 754 815.8 757.3 820 758.8C824.2 760.2 825.2 760.4 827.5 760C829.8 759.6 832.3 758.3 833.8 756.2C835.2 754.2 835.4 751 836.2 747.5C837.1 744 837.3 738.5 838.8 735C840.2 731.5 842.3 728.8 845 726.2C847.7 723.8 850 722.9 855 720C860 717.1 870.2 711 875 708.8C879.8 706.5 881.2 706 883.8 706.2C886.2 706.5 888.1 709.2 890 710C891.9 710.8 894.2 711 895 711.2" class="ph"/>
<path d="M770 685C770.8 687.5 772.9 695.4 775 700C777.1 704.6 780 708.8 782.5 712.5C785 716.2 788.8 720.8 790 722.5" class="ph"/>
<path d="M780 707.5C782.5 708.8 789.2 713.5 795 715C800.8 716.5 810 717.1 815 716.2C820 715.4 822.5 711.9 825 710C827.5 708.1 830 707.5 830 705C830 702.5 826.9 698.3 825 695C823.1 691.7 819.8 686.7 818.8 685" class="ph"/>
<ellipse cx="860.8" cy="738.8" rx="5" ry="7.5" transform="rotate(-20 860.8 738.8)" class="phs"/>
<ellipse cx="861.8" cy="739.2" rx="3" ry="5.5" transform="rotate(-20 861.8 739.2)" class="thin"/>
<path d="M866.2 786.2C867.3 785.2 871.7 782.7 872.5 780C873.3 777.3 870.8 773.3 871.2 770C871.7 766.7 874.4 761.7 875 760" class="phs"/>
<path d="M875 782.5C874.8 781.2 873.5 778.3 873.8 775C874 771.7 875.8 764.6 876.2 762.5" class="thin"/>
<path d="M875 760C877.1 759.4 880.8 757.3 887.5 756.2C894.2 755.2 906.2 755.2 915 753.8C923.8 752.3 933 750 940 747.5C947 745 954 740.2 956.8 738.8" class="ph"/>
<path d="M866.2 786.2L871.2 783.8L945 827.5" class="ph"/>
<path d="M890 710C894.2 710.2 906.7 711.7 915 711.2C923.3 710.8 933 709.4 940 707.5C947 705.6 954 701.2 956.8 700" class="ph"/>
<path d="M956.8 703.8L935 690L925 685" class="ph"/>
<ellipse cx="901.2" cy="688.8" rx="6.5" ry="3.2" class="phs"/><ellipse cx="901.2" cy="689.5" rx="4" ry="1.8" class="thin"/>
<path d="M943.8 776.2C945.5 775.1 963 763.4 965 762.5C967 761.6 967.2 760.6 967.5 765C967.8 769.4 968.1 810.3 968 815C967.9 819.7 968.1 820 966.2 821.2C964.4 822.5 948.1 829.6 946.2 830C944.4 830.4 944 830.7 943.8 826.2C943.5 821.8 943.8 780.4 943.8 776.2" class="phs"/>
<ellipse cx="955" cy="788.8" rx="3.8" ry="7" transform="rotate(20 955 788.8)" class="phs"/>
<ellipse cx="954.5" cy="789" rx="2" ry="5" transform="rotate(20 954.5 789)" class="thin"/>
<path d="M865 783.8L946.2 830" class="ph"/>
<path d="M926.2 751.2C926.9 753.1 927.1 758.3 930 762.5C932.9 766.7 941.5 774 943.8 776.2" class="phs"/>
<path d="M935 757.5L946.2 752.5" class="phs"/>
<path d="M880 757.5C882.5 756.8 887.3 754 895 753C902.7 752 918.3 752.4 926.2 751.2C934.2 750.1 937.9 747.5 942.5 746.2C947.1 745 951.2 745 953.8 743.8C956.2 742.5 955 740.8 957.5 738.8C960 736.7 965.8 732.9 968.8 731.2C971.7 729.6 974 729.2 975 728.8" class="ph"/>
<path d="M953.8 743.8L965 762.5" class="phs"/>
<path d="M968 735L968 765" class="ph"/>
<path d="M966.2 736.2L966.2 762.5" class="thin"/>
<path d="M1022.5 732.5C1024.2 731.4 1040.6 719.7 1042.5 718.8C1044.4 717.8 1045.2 717 1045.5 721.2C1045.8 725.5 1045.6 765.5 1045.5 770C1045.4 774.5 1045.5 774 1043.8 775C1042 776 1026.8 782.2 1025 782.5C1023.2 782.8 1022.2 782.9 1022 778.8C1021.8 774.6 1022.5 736.4 1022.5 732.5" class="phs"/>
<ellipse cx="1033" cy="742.5" rx="3.8" ry="7" transform="rotate(20 1033 742.5)" class="phs"/>
<ellipse cx="1032.5" cy="742.8" rx="2" ry="5" transform="rotate(20 1032.5 742.8)" class="thin"/>
<path d="M968.8 752.5L1023.8 781.2" class="ph"/>
<path d="M1000 710C1000.8 712.1 1001.2 718.8 1005 722.5C1008.8 726.2 1019.6 730.8 1022.5 732.5" class="phs"/>
<path d="M1007.5 711.2L1020 703.8" class="phs"/>
<path d="M1000 710C1000.4 707.9 1000.8 700.8 1002.5 697.5C1004.2 694.2 1006.7 692.1 1010 690C1013.3 687.9 1020.4 685.8 1022.5 685" class="ph"/>
<path d="M1023.8 693.8C1024.4 695.6 1024.4 700.8 1027.5 705C1030.6 709.2 1040 716.5 1042.5 718.8" class="phs"/>
<ellipse cx="1067" cy="708.8" rx="7.5" ry="10.5" transform="rotate(25 1067 708.8)" class="phs"/>
<ellipse cx="1067" cy="709.2" rx="3" ry="4.5" transform="rotate(25 1067 709.2)" class="phs"/>
<path d="M1058.8 716.2L1040 692.5L1035 685" class="phs"/>
<path d="M1072.5 700L1060 690L1055 685" class="phs"/>
<path d="M1040 693.8L1052.5 686.2" class="phs"/>
<path d="M1073.8 717.5C1073.9 719.6 1075.1 726.9 1074.5 730C1073.9 733.1 1072.4 734.8 1070 736.2C1067.6 737.7 1063.3 738.5 1060 738.8C1056.7 739 1052.4 738.1 1050 737.5C1047.6 736.9 1046.2 735.4 1045.5 735" class="ph"/>
<ellipse cx="903.8" cy="688.8" rx="7" ry="3.3" class="phs"/><ellipse cx="903.8" cy="689.5" rx="4.2" ry="1.8" class="thin"/>
<path d="M880 710C882.5 710.2 888.8 711.5 895 711.2C901.2 711 909.6 710.2 917.5 708.8C925.4 707.3 935.8 704.8 942.5 702.5C949.2 700.2 953.3 697.9 957.5 695C961.7 692.1 965.8 686.7 967.5 685" class="ph"/>
<path d="M880 723.8C884.2 723.5 896.7 723.5 905 722.5C913.3 721.5 925.8 718.3 930 717.5" class="ph"/>
<path d="M885 706.2C885.8 706.8 888.3 708.7 890 709.5C891.7 710.3 894.2 711 895 711.2" class="phs"/>
<path d="M956.2 740C958.5 738.3 965.2 733.3 970 730C974.8 726.7 980 723.3 985 720C990 716.7 997.5 711.7 1000 710" class="phs"/>
<path d="M957.5 742C959.8 740.4 966.5 735.8 971.2 732.5C976 729.2 981.2 725.9 986.2 722.5C991.2 719.1 998.8 713.8 1001.2 712" class="thin"/>
<ellipse cx="989.2" cy="687" rx="4.5" ry="6.8" transform="rotate(-15 989.2 687)" class="phs"/>
<ellipse cx="990" cy="687.5" rx="2.5" ry="5" transform="rotate(-15 990 687.5)" class="thin"/>
<path d="M1061 524C1061.3 525.8 1063.5 531.5 1063 535C1062.5 538.5 1058.8 543.3 1058 545" class="ph"/>
<path d="M1060 634C1060.3 635.8 1062.5 641.5 1062 645C1061.5 648.5 1057.8 653.3 1057 655" class="ph"/>
<path d="M1073.7 670.7L1073.7 717.5" class="ph"/>
<path d="M1063.6 677C1064.9 676 1069.1 671.9 1071.5 670.7C1073.9 669.5 1076.9 670.1 1078 670" class="phs"/>
<path d="M1031.8 667.5C1030.5 668 1025.4 668.1 1023.8 670.7C1022.2 673.4 1022.2 679.6 1022.2 683.4C1022.2 687.2 1023.5 692 1023.7 693.7" class="phs"/>
<path d="M1000 691L1024 676" class="phs"/>
<path d="M1003 697L1027 683.5" class="phs"/>
<path d="M1037 668L1058 702" class="phs"/>
<path d="M1042 666L1063 699" class="phs"/>
<path d="M1037 668L1042 666" class="phs"/><path d="M301.6 716.5C299.9 713.9 294.7 706.8 291.4 700.7C288.1 694.6 283.9 684.2 281.8 680C279.7 675.8 280.8 680.1 278.8 675.4C276.8 670.7 272.3 657.7 270 652C267.7 646.3 266.4 644 265.1 641.2C263.8 638.4 263.3 636.4 262.4 635C261.5 633.6 260.9 633.8 259.9 632.7C258.9 631.7 257.3 630 256.4 628.7C255.4 627.4 254.8 626.4 254.2 624.7C253.6 623.1 253 620.5 252.9 618.8C252.8 617.1 253.2 615.7 253.7 614.3C254.2 612.9 255.4 611.4 255.7 610.3C256 609.1 256 608.7 255.7 607.4C255.4 606.1 254.1 604.1 253.7 602.4C253.3 600.7 253.1 598.9 253.2 597.4C253.3 595.9 253.8 594.5 254.4 593.4C255 592.3 256.2 591.9 256.9 591C257.6 590.1 258.3 589.1 258.4 588C258.5 586.9 257.8 585.7 257.6 584.5C257.4 583.3 257.1 582.1 257.4 580.8C257.7 579.5 258.2 578.2 259.5 576.9C260.8 575.6 263.2 574.1 265 572.9C266.8 571.6 269.2 570 270 569.4" class="hv"/>
<path d="M283.3 559.7C283.7 558.9 282 557.1 285.4 554.6C288.8 552.1 299.5 546.2 303.8 544.9C308.1 543.5 308.9 544.9 311 546.4C313 547.8 315.3 552.4 316.1 553.6" class="hv"/>
<path d="M316.1 553.6C315.3 554.1 312.7 555.3 311 556.6C309.3 558 307 560.1 305.9 561.8C304.8 563.5 304.4 565.3 304.3 566.9C304.2 568.4 304.8 570 305.3 571C305.9 572 307.1 572.7 307.4 573" class="pt"/>
<path d="M284.3 557.9A7 11.3 -30 1 1 292.7 575.2" class="pt"/>
<path d="M283.3 559.7C283.2 560.7 282.5 563.8 282.8 565.9C283.1 567.9 284.1 570.5 285.4 572C286.6 573.5 288.8 574.7 290.5 575.1C292.2 575.5 294.3 574.9 295.6 574.6C296.9 574.2 297.7 573.3 298.2 573" class="hv"/>
<path d="M300.7 568.9C301.1 569.4 302.1 570.9 302.8 571.5C303.5 572.1 304.5 572.3 304.8 572.5" class="pt"/>
<ellipse cx="292.3" cy="566" rx="4.5" ry="7.3" transform="rotate(-30 292.3 566)" class="pt"/>
<path d="M270 569.4C271.7 568.7 277.9 565.8 280.2 564.8C282.6 563.9 283.2 564 283.8 563.8" class="hv"/>
<ellipse cx="281.8" cy="578.2" rx="4.4" ry="6.2" transform="rotate(-25 281.8 578.2)" class="hid"/>
<path d="M276.1 567.4C275.6 568.3 273.4 571.1 273.1 573C272.7 575 273.3 577.3 274.1 579.2C274.9 581.1 276.5 583.3 277.7 584.3C278.9 585.3 280.7 585.2 281.3 585.3" class="pt"/>
<path d="M270 580.2C270.5 580.7 272.2 582.6 273.1 583.3C273.9 584 274.8 584.1 275.1 584.3" class="pt"/>
<path d="M285.4 571C285.6 571.7 286.7 573.9 286.9 575.1C287.1 576.3 286.5 577.6 286.4 578.2" class="pt"/>
<ellipse cx="263.1" cy="623.5" rx="4.5" ry="7.3" transform="rotate(-30 263.1 623.5)" class="pt"/>
<ellipse cx="263.1" cy="604.4" rx="4" ry="6.4" transform="rotate(-30 263.1 604.4)" class="pt"/>
<path d="M263.4 599.1A3.2 5.2 -30 0 1 267.7 607.5" class="thin"/>
<path d="M265.1 634.1C265.9 634.4 268.4 636.1 269.9 636.1C271.3 636.1 272.8 634.3 273.8 634.1C274.9 633.8 275.8 634.7 276.2 634.8" class="pt"/>
<path d="M313.5 557.2C314.2 557 329.4 553.3 330.5 554.1C331.5 554.9 340 576.6 339.7 577.6C339.3 578.7 322.3 582 321.2 581.2C320.2 580.4 313.9 558.1 313.5 557.2" class="hv"/>
<path d="M315.1 556.8C315.5 556.6 317.5 554.7 319.2 554.3C320.8 553.9 329.7 552.7 331.5 552.6C333.2 552.6 335.7 553.5 336.6 554.1C337.5 554.6 340.1 557.7 340.7 558.2C341.3 558.6 342.1 558.6 342.2 558.7" class="hv"/>
<path d="M335.6 554.4L340.7 577.1L339.7 577.6" class="pt"/>
<path d="M332 554.6L337.6 578.2" class="thin"/>
<path d="M337.1 553.4L352 552" class="hv"/>
<path d="M337.1 560.7L352 560.2" class="pt"/>
<path d="M354 549.5C357.1 547.8 368.4 541.1 372.5 539.7C376.6 538.4 376.6 540 378.6 541.3C380.7 542.6 382.7 546.1 384.8 547.4C386.8 548.8 388.4 549.4 390.9 549.5C393.4 549.5 398.5 547.9 400 547.6" class="hv"/>
<path d="M357.1 549C356.3 549.9 353.3 552.6 352.5 554.6C351.6 556.6 351.7 558.7 352 560.7C352.2 562.8 353.2 565.3 354 566.9C354.9 568.4 356.1 568.9 357.1 570C358.1 571 359.5 571.8 360.2 573C360.8 574.2 361 576.4 361.2 577.1" class="hv"/>
<path d="M370.9 560.7C371 561.4 371.1 563.6 371.4 564.8C371.8 566 372.3 567.1 373 567.9C373.7 568.7 375.1 569.2 375.5 569.4" class="pt"/>
<path d="M358.9 554.4A4.5 7.3 -30 1 1 356.1 559.3" class="pt"/>
<path d="M373.5 557.7C375 557.5 379.5 556.7 382.7 556.8C385.9 557 390.1 558 393 558.7C395.8 559.3 398.8 560.4 400 560.7" class="pt"/>
<path d="M400 547.6C401.5 548.1 404.7 549.2 408.9 550.7C413 552.1 420 554.4 424.7 556.2C429.5 558.1 435.3 560.8 437.5 561.8" class="hv"/>
<path d="M400 560.7C401.5 561.1 404.5 561.5 408.9 563.4C413.2 565.3 423.4 570.6 426.3 572.1" class="pt"/>
<path d="M429.4 590.4C429 589 427.6 584.8 427.3 582.4C427.1 580 427.5 577.9 427.8 576.1C428.1 574.2 427.1 573.4 429.4 571.3C431.6 569.2 438.3 565.2 441.3 563.4C444.3 561.5 445.8 560.6 447.7 560.2C449.6 559.8 450.9 559.8 452.7 561C454.6 562.2 457 564.6 458.8 567.3C460.6 570.1 462.7 575.9 463.5 577.7" class="hv"/>
<ellipse cx="437.3" cy="581.6" rx="4.3" ry="7" transform="rotate(-30 437.3 581.6)" class="pt"/>
<path d="M442.9 576.1C443.7 577.7 447.1 582.2 447.7 585.6C448.2 589 446.3 594.9 446.1 596.7" class="pt"/>
<path d="M463.5 577.7L449.2 585.6" class="pt"/>
<path d="M463.5 577.7C466.2 580.8 474.1 591.2 479.4 596.7C484.7 602.3 490 606.5 495.3 611C500.6 615.5 507 620 511.2 623.7C515.4 627.4 519.1 631.7 520.7 633.3" class="hv"/>
<path d="M449.7 589.7L465.7 603.3" class="pt"/>
<path d="M488 622.4C489.3 623.7 492.7 626.6 495.6 630C498.5 633.4 503.7 640.4 505.3 642.5" class="pt"/>
<path d="M462.2 616.8C462.5 615.9 465.7 603.1 466.4 601.9C467.1 600.7 472.9 596.6 474.4 597.2C475.9 597.9 490.9 611.6 492 612.7C493.1 613.7 492.5 614.7 492.3 615.1C492 615.5 488.4 619 487.9 620C487.5 620.9 485 630.3 484.5 631.1C484 631.9 480.5 634.4 479.3 633.6C478 632.9 464.6 620.3 463.6 619.3C462.6 618.3 462.3 617 462.2 616.8" class="hv"/>
<path d="M466.8 602.1L484.5 616.5L491.8 614.1" class="pt"/>
<path d="M484.5 616.5L480.7 632.3" class="pt"/>
<path d="M491.8 618.9C492.1 619.6 493 622.3 493.5 623.1C494 623.9 494.7 623.7 494.9 623.8" class="pt"/>
<path d="M504.8 643.6C507.5 641.9 517 634.6 520.7 633.3C524.4 631.9 524.8 633.8 527.1 635.6C529.3 637.5 532.6 641.3 534.2 644.4C535.9 647.4 536.9 651 536.9 653.9C536.9 656.8 534.7 660.5 534.2 661.9" class="hv"/>
<ellipse cx="512" cy="657.1" rx="4.3" ry="7" transform="rotate(-30 512 657.1)" class="pt"/>
<path d="M495.3 650.7C496.4 650.5 499.9 650.1 501.7 649.1C503.4 648.2 505 645.8 505.6 645.2" class="pt"/>
<path d="M503.3 668.2C504.6 667.9 508.8 666.4 511.2 666.6C513.6 666.9 516.5 669.3 517.6 669.8" class="pt"/>
<path d="M507.6 647.1A6.8 11 -30 1 1 515.1 667.2" class="pt"/>
<path d="M534.2 661.9L517.6 669.8" class="pt"/>
<path d="M534.2 661.9C534.4 666.5 534.8 683 535 690C535.3 697 535 699.9 535.8 703.8C536.6 707.7 538.6 710.4 539.8 713.4C541 716.3 543 718.4 543 721.3C543 724.2 540.6 728.5 539.8 730.8C539 733.2 537.9 733.5 538.2 735.6C538.5 737.7 541.4 740.9 541.4 743.5C541.4 746.2 539.3 749.6 538.2 751.5C537.1 753.3 535.3 752.8 535 754.7C534.8 756.5 537.1 760 536.6 762.6C536.1 765.3 533.7 765.8 531.9 770.5C530 775.3 527.7 783.8 525.5 791.2C523.2 798.6 519.7 809.7 518.3 815C517 820.3 520.1 820.1 517.6 823C515 825.9 507 830.3 503.3 832.5C499.5 834.8 496.6 835.8 495.3 836.5" class="hv"/>
<path d="M517.6 669.8C517.7 673.2 518.1 683 518.3 690C518.6 697 519 708.1 519.1 711.8" class="pt"/>
<path d="M501.7 708.6C503 709.5 506.7 713.4 509.6 714.2C512.5 714.9 516.5 711.9 519.1 713.4C521.8 714.8 524.2 719.7 525.5 722.9C526.8 726.1 527.3 729.5 527.1 732.4C526.8 735.3 524.2 737.5 523.9 740.4C523.6 743.3 526 746.7 525.5 749.9C525 753.1 521.8 756.3 520.7 759.4C519.7 762.6 519.3 766.3 519.1 769C519 771.6 519.8 774.3 519.9 775.3" class="pt"/>
<ellipse cx="517.6" cy="727.2" rx="4" ry="6.4" transform="rotate(-30 517.6 727.2)" class="pt"/>
<ellipse cx="516.3" cy="748" rx="4" ry="6.4" transform="rotate(-30 516.3 748)" class="pt"/>
<path d="M501.7 776.9C503.3 776.6 508.6 775 511.2 775.3C513.8 775.6 516.5 778 517.6 778.5" class="pt"/>
<path d="M519.1 769L535 762.6" class="pt"/>
<path d="M519.9 775.3L531.9 769.8" class="pt"/>
<path d="M519.1 713.4L535.8 703.8" class="pt"/>
<path d="M517.6 778.5L504.8 818.2" class="pt"/>
<path d="M531.9 770.5L519.1 811.9" class="pt"/>
<path d="M521.5 754.7L531.9 754.7L531.9 762.6L522.3 762.6" class="hid"/>
<ellipse cx="492.1" cy="823.8" rx="3.7" ry="6" transform="rotate(-30 492.1 823.8)" class="pt"/>
<path d="M493.7 808.7C494 809.7 494.5 813.4 495.3 815C496.1 816.6 496.9 817.3 498.5 818.2C500.1 819.1 501.7 820.9 504.8 820.6C508 820.3 515.4 817.3 517.6 816.6" class="pt"/>
<path d="M476.3 820.6C477.6 821.5 482.1 824.2 484.2 826.1C486.3 828.1 487.1 830.8 489 832.5C490.8 834.2 494.3 835.8 495.3 836.5" class="pt"/>
<path d="M517.6 816.6L518.3 823" class="pt"/>
<path d="M501.7 819.8L517.6 812.6" class="hid"/>
<path d="M471.5 835.7L489 827.7" class="hid"/>
<path d="M505 833.5L495.5 856.6L459 876.4L449.4 879.6" class="hv"/>
<path d="M449.4 879.6C448.4 879.1 445.2 878.3 443.1 876.4C441 874.6 438.3 871.4 436.7 868.5C435.1 865.6 434.1 860.5 433.5 859" class="hv"/>
<path d="M433.5 859L432 854.2" class="pt"/>
<path d="M381.9 823.2L398.6 838.3L401 839.9L401 855.8L417.7 869.3L422.4 865.3L436.7 868.5" class="hv"/>
<path d="M401 839.9L417.7 849.4L417.7 869.3" class="pt"/>
<path d="M417.7 849.4L421.6 852.6L422.4 865.3" class="pt"/>
<path d="M439.9 871.7C439.6 870.6 438 867.2 438.3 865.3C438.6 863.5 440.4 861.2 441.5 860.5C442.5 859.9 444.1 861.2 444.7 861.3" class="pt"/>
<path d="M397.8 824L398.6 838.3" class="pt"/>
<path d="M413.6 757.8L447.8 878" class="hv"/>
<path d="M455.6 781.7L479.6 862.1" class="pt"/>
<path d="M479.6 862.1L495.5 854.2" class="pt"/>
<path d="M481.2 859L495.5 835.1L505 833.5" class="pt"/>
<path d="M516.1 777.9L503.4 817.7" class="pt"/>
<path d="M362 818.2C362.4 817.1 362.9 812.9 364.4 811.9C365.8 810.8 368.1 810 370.7 811.9C373.4 813.7 378.8 819.5 380.3 823C381.7 826.4 380.8 830.3 379.5 832.5C378.1 834.8 374.8 837 372.3 836.5C369.8 835.9 366.1 832.4 364.4 829.3C362.7 826.3 362.4 820.1 362 818.2" class="hv"/>
<ellipse cx="371.5" cy="823.8" rx="4.2" ry="6.8" transform="rotate(-30 371.5 823.8)" class="pt"/>
<path d="M301.6 716.5C301.4 717.9 299.9 721.6 300.5 724.5C301.2 727.4 303.2 731.4 305.6 734C308 736.7 311.2 736.1 315.1 740.4C319.1 744.6 324.4 752.3 329.4 759.4C334.5 766.6 340 774.8 345.3 783.3C350.6 791.7 358 805 361.2 810.3C364.4 815.6 363.8 814.2 364.4 815" class="hv"/>
<ellipse cx="310" cy="727.3" rx="4" ry="6.5" transform="rotate(-30 310 727.3)" class="pt"/>
<path d="M303.2 715.7C304.1 715.6 307.2 715.1 308.8 714.6C310.4 714.2 312.1 713.3 312.7 713" class="pt"/>
<path d="M319.9 735.6C320.2 735.9 320.8 737.4 321.5 737.5C322.1 737.6 323.5 736.6 323.9 736.4" class="pt"/>
<path d="M335.8 741.2C336.6 742.9 339.2 747.6 340.5 751.5C341.9 755.3 341.9 758.1 343.7 764.2C345.6 770.3 348.2 780.6 351.7 788C355.1 795.4 360.1 803.4 364.4 808.7C368.6 814 375 817.9 377.1 819.8" class="pt"/>
<path d="M343.7 756.3C344 759.4 343.5 769 345.3 775.3C347.2 781.7 350.6 788.3 354.8 794.4C359.1 800.5 365.4 807.6 370.7 811.9C376 816.1 381.3 818.2 386.6 819.8C391.9 821.4 397.2 822.2 402.5 821.4C407.8 820.6 414.7 816.6 418.4 815C422.1 813.4 423.7 812.4 424.7 811.9" class="pt"/>
<path d="M351.7 628.5C352.2 625.3 352.7 615.3 354.8 609.4C357 603.6 360.7 597.4 364.4 593.5C368.1 589.7 374.5 587.6 377.1 586.4C379.7 585.2 376.7 586.2 380 586.1C383.3 586 391.1 585 396.7 585.6C402.3 586.2 407.8 587.4 413.4 590C418.9 592.6 424.4 596.8 430 601.1C435.6 605.4 441.7 610.6 446.7 615.6C451.7 620.6 456 626 460.1 631.2C464.2 636.4 467.9 641.9 471.2 646.7C474.5 651.5 477.8 656.3 480.1 660.1C482.4 663.9 483.3 665.5 485.1 669.3C486.9 673 489.2 678 490.8 682.6C492.4 687.2 493.7 691.2 494.6 696.7C495.6 702.2 496.4 710.4 496.5 715.6C496.6 720.8 496.3 723.1 495.3 727.7C494.3 732.4 492.6 738.7 490.5 743.5C488.4 748.3 485.8 752.3 482.6 756.3C479.4 760.3 474.9 764.8 471.5 767.4C468.1 770 464.9 771.3 462 772.1C459.1 772.9 455.3 772.1 454 772.1" class="pt"/>
<path d="M353.3 644.4C357.2 642.1 372.6 633.3 377.1 630.9C381.5 628.5 377.7 629.9 380 630C382.3 630.1 386.5 629.9 391.1 631.2C395.7 632.5 402.2 634.3 407.8 637.8C413.4 641.3 419.9 646.7 424.5 652.3C429.1 657.9 432.9 667.6 435.6 671.2C438.3 674.8 439.9 673.5 440.7 674" class="pt"/>
<path d="M446.3 686.8C447.1 689.2 450.2 696.7 451.1 701.5C452 706.3 451.8 710.9 451.5 715.6C451.2 720.4 449.8 726.9 449.2 730C448.6 733.1 449 731.8 447.7 734C446.4 736.2 444.2 741.1 441.3 743.5C438.4 745.9 432.1 747.5 430.2 748.3" class="pt"/>
<path d="M372.3 588.8L348.5 647.6" class="pt"/>
<path d="M376.3 589.6L353.3 644.4" class="pt"/>
<path d="M372.3 588.8L376.3 589.6L376.3 630.1" class="pt"/>
<path d="M289.7 627.7L292.1 631.7L348.5 649.1" class="pt"/>
<path d="M289.7 627.7L292.1 639.6L329.4 661.9" class="hv"/>
<path d="M292.1 639.6C291.7 639.3 290.2 637.9 289.7 638C289.2 638.2 289.1 640 288.9 640.4" class="pt"/>
<path d="M296.1 639.6L331 659.5" class="thin"/>
<path d="M414.2 688.7L480.4 660.3" class="pt"/>
<path d="M418.4 689.2L480.4 661.3" class="thin"/>
<path d="M420.3 697.7L483.2 667.9" class="hv"/>
<path d="M414.2 687.8C414.6 688.7 415.6 690.7 416.5 693C417.4 695.3 419.3 700.1 419.9 701.5" class="pt"/>
<path d="M480.4 658C480.9 659.4 482.1 664.6 483.2 666.5C484.3 668.4 486.4 668.8 487 669.3" class="pt"/>
<ellipse cx="367.6" cy="710.2" rx="39.9" ry="66.5" transform="rotate(-30 367.6 710.2)" class="hv"/><ellipse cx="368.2" cy="709.9" rx="36.6" ry="61" transform="rotate(-30 368.2 709.9)" class="pt"/><ellipse cx="368.8" cy="709.6" rx="31.5" ry="52.5" transform="rotate(-30 368.8 709.6)" class="hv"/><path d="M405.2 740A30.3 50.5 -30 1 1 357 662.2" class="pt"/><path d="M403.9 743.9A29.4 49 -30 1 1 355 662.1" class="pt"/><path d="M401.3 745.6A28.5 47.5 -30 1 1 353.8 663.3" class="thin"/><path d="M337.1 651.3A39.9 66.5 -30 1 1 403.3 766.1" class="pt"/><path d="M331.5 654.6L337.1 651.3" class="pt"/><path d="M397.7 769.3L403.3 766.1" class="pt"/><path d="M402.2 739.2A28.8 48 -30 0 1 360.6 663.6" class="pt"/><path d="M403.1 732.5A28.2 47 -30 0 1 367.6 661.8" class="pt"/><path d="M405.6 722.4A27.6 46 -30 0 1 377.3 658.6" class="thin"/>
<ellipse cx="366.6" cy="678.2" rx="2.2" ry="2.8" class="pt" transform="rotate(-30 367 678)"/>
<ellipse cx="424" cy="711.5" rx="2" ry="2.6" class="hid" transform="rotate(-30 424 711.5)"/>
<path d="M405.7 765.8L413.6 807.1" class="thin"/>
<path d="M415.2 762.6L423.2 797.6" class="pt"/>
<path d="M430.2 748.3C434.2 752.3 449.8 766.6 454 772.1C458.2 777.7 455.3 780.1 455.6 781.7" class="pt"/>
<path d="M412.7 759.4L425.4 797.6" class="pt"/>
<path d="M420.7 797.6L426.2 797.6" class="pt"/>
<path d="M428.6 749.9C430.4 749.1 436.8 746.1 439.7 745.1C442.6 744.2 445 744.5 446.1 744.3" class="pt"/><path d="M52.5 892.7L97.5 866.7" class="ax"/>
<path d="M128 849.1L172.5 823.4" class="ax"/>
<path d="M192.5 811.9L269.5 767.4" class="ax"/>
<path d="M305 746.9L386 700.1" class="ax"/>
<path d="M515.7 625.2L795 464" class="ax"/>
<path d="M201 659.1L206.8 655.7" class="ax"/>
<path d="M228.7 642.6L232.6 640.3" class="ax"/>
<path d="M241 636.1L262.3 623.9" class="ax"/>
<path d="M266 621.5L357 570.5" class="hid"/>
<path d="M390.7 549.5L455.3 512.3" class="ax"/>
<path d="M512.7 479L760.5 335.6" class="ax"/>
<path d="M331 552.2L502.8 451.7" class="ax"/>
<path d="M528 437.5L763.5 301" class="ax"/>
<path d="M264.2 681.8L432 584.9" class="ax"/>
<path d="M459.5 569.5L896.5 317.3" class="ax"/>
<path d="M308.3 867.5L312 865.4" class="ax"/>
<path d="M331 853.6L338.5 849.4" class="ax"/>
<path d="M347.7 844.2L565 719.6" class="ax"/>
<path d="M622.6 685.5L990.7 472" class="ax"/>
<path d="M534 755L639.2 691.2" class="ax"/>
<path d="M664.7 675.6L990.7 488.2" class="ax"/>
<path d="M517.8 812.3L551.5 794.6" class="ax"/>
<path d="M518.3 813.5L552 795.8" class="thin"/>
<path d="M563.4 787L571.8 782" class="ax"/>
<path d="M457.9 868L462.9 900" class="ax"/>
<path d="M459.3 868L464.3 900" class="thin"/>
<path d="M504.5 405L514.5 436.4" class="ld"/>
<path d="M247.5 519.5L270 569.5" class="ld"/>
<path d="M162.5 615L230 631.6" class="ld"/>
<path d="M162.5 644L203.5 649.7" class="ld"/>
<path d="M169.1 701.2L209.4 705.4" class="ld"/>
<path d="M489.7 500.3L495.7 516.2" class="ld"/>
<path d="M585.3 677L588.6 697.8" class="ld"/>
<path d="M656.2 690.3L669.3 740.5" class="ld"/>
<path d="M561.7 799.7L568.4 822.5" class="ld"/>
<path d="M358.4 853.2L374.5 866.3" class="ld"/>
<path d="M330.4 869.9L339.3 886" class="ld"/>
<path d="M471.4 905.2L495 900.1" class="ld"/>
<path d="M116 751L135 783" class="ld"/>
<path d="M68 778L77.5 817" class="ld"/>
<path d="M708.7 825L767.5 825L803.7 767.5" class="ld"/>
<path d="M1098 859.2L1032.5 859.2L891.2 410.5" class="ld"/>
<circle cx="891.2" cy="410.5" r="2.6" fill="#000" stroke="none"/>
<ellipse cx="507.2" cy="449.5" rx="3.4" ry="5.6" transform="rotate(-30 507.2 449.5)" class="pt"/><path d="M504.4 444.7L523.7 433.5L523.7 433.5A3.4 5.6 -30 0 1 529.3 443.2L510 454.3" class="pt"/>
<ellipse cx="643" cy="688.4" rx="3.5" ry="5.9" transform="rotate(-30 643 688.4)" class="pt"/><path d="M640 683.3L659.4 672.1L659.4 672.1A3.5 5.9 -30 0 1 665.3 682.4L646 693.5" class="pt"/>
<ellipse cx="459.7" cy="510.2" rx="3.2" ry="5.3" transform="rotate(-30 459.7 510.2)" class="pt"/><path d="M457.1 505.6L508.1 476.2L508.1 476.2A3.2 5.3 -30 0 1 513.4 485.3L462.3 514.8" class="pt"/>
<path d="M460.2 503.9A3.2 5.3 -30 0 1 465.4 512.9" class="th"/><path d="M462.9 502.3A3.2 5.3 -30 0 1 468.2 511.3" class="th"/><path d="M465.7 500.7A3.2 5.3 -30 0 1 470.9 509.7" class="th"/><path d="M468.5 499.1A3.2 5.3 -30 0 1 473.7 508.1" class="th"/><path d="M471.3 497.5A3.2 5.3 -30 0 1 476.5 506.5" class="th"/><path d="M474 495.9A3.2 5.3 -30 0 1 479.2 504.9" class="th"/>
<path d="M492.2 485.4A3.2 5.3 -30 0 1 497.4 494.4" class="th"/><path d="M495 483.8A3.2 5.3 -30 0 1 500.2 492.8" class="th"/><path d="M497.8 482.2A3.2 5.3 -30 0 1 503 491.2" class="th"/><path d="M500.5 480.6A3.2 5.3 -30 0 1 505.7 489.6" class="th"/><path d="M503.3 479A3.2 5.3 -30 0 1 508.5 488" class="th"/><path d="M506.1 477.4A3.2 5.3 -30 0 1 511.3 486.4" class="th"/>
<ellipse cx="569.2" cy="716.7" rx="3.4" ry="5.7" transform="rotate(-30 569.2 716.7)" class="pt"/><path d="M566.4 711.8L616.8 682.6L616.8 682.6A3.4 5.7 -30 0 1 622.5 692.5L572.1 721.6" class="pt"/>
<path d="M569.5 710A3.4 5.7 -30 0 1 575.1 719.8" class="th"/><path d="M572.3 708.4A3.4 5.7 -30 0 1 577.9 718.2" class="th"/><path d="M575 706.8A3.4 5.7 -30 0 1 580.7 716.6" class="th"/><path d="M577.8 705.2A3.4 5.7 -30 0 1 583.4 715" class="th"/><path d="M580.6 703.6A3.4 5.7 -30 0 1 586.2 713.4" class="th"/><path d="M583.4 702A3.4 5.7 -30 0 1 589 711.8" class="th"/>
<path d="M601.5 691.5A3.4 5.7 -30 0 1 607.2 701.3" class="th"/><path d="M604.3 689.9A3.4 5.7 -30 0 1 609.9 699.7" class="th"/><path d="M607.1 688.3A3.4 5.7 -30 0 1 612.7 698.1" class="th"/><path d="M609.9 686.7A3.4 5.7 -30 0 1 615.5 696.5" class="th"/><path d="M612.6 685.1A3.4 5.7 -30 0 1 618.2 694.9" class="th"/><path d="M615.4 683.5A3.4 5.7 -30 0 1 621 693.3" class="th"/>
<path d="M461 509.5L464 507.8" class="thin"/>
<path d="M570.5 716L573.5 714.3" class="thin"/>
<ellipse cx="212.6" cy="651.6" rx="7.1" ry="11.5" transform="rotate(-30 212.6 651.6)" class="pt"/><path d="M206.8 641.6L215.1 636.9L215.1 636.9A7.1 11.5 -30 0 1 226.6 656.8L218.3 661.6" class="pt"/><ellipse cx="212.6" cy="651.6" rx="3.2" ry="5.2" transform="rotate(-30 212.6 651.6)" class="pt"/><path d="M215.9 654.5A2.6 4.2 -30 0 1 211.7 647.3" class="thin"/><path d="M214.4 643L222.6 638.2" class="thin"/><path d="M221 654.4L229.2 649.6" class="thin"/>
<ellipse cx="319.1" cy="859.1" rx="7.1" ry="11.5" transform="rotate(-30 319.1 859.1)" class="pt"/><path d="M313.4 849.1L321.6 844.4L321.6 844.4A7.1 11.5 -30 0 1 333.1 864.3L324.9 869.1" class="pt"/><ellipse cx="319.1" cy="859.1" rx="3.2" ry="5.2" transform="rotate(-30 319.1 859.1)" class="pt"/><path d="M322.4 862A2.6 4.2 -30 0 1 318.2 854.8" class="thin"/><path d="M320.9 850.5L329.1 845.7" class="thin"/><path d="M327.5 861.9L335.7 857.1" class="thin"/>
<path d="M247.9 634.4A6.9 11.2 -30 1 1 244.1 628.9" class="pt"/><path d="M244.8 636.1A3.5 5.6 -30 1 1 242.2 632.2" class="pt"/><path d="M243.1 623.7A6.9 11.2 -30 0 1 249.4 644" class="pt"/><path d="M245.8 638.9A3.5 5.6 -30 0 1 241.2 629.9" class="thin"/><path d="M247.9 634.4L244.8 636.1" class="pt"/><path d="M244.1 628.9L242.2 632.2" class="pt"/><path d="M245.5 646.3L249.4 644" class="pt"/>
<path d="M354.6 842.5A6.9 11.2 -30 1 1 350.8 837" class="pt"/><path d="M351.5 844.2A3.5 5.6 -30 1 1 348.9 840.3" class="pt"/><path d="M349.8 831.8A6.9 11.2 -30 0 1 356.1 852.1" class="pt"/><path d="M352.5 847A3.5 5.6 -30 0 1 347.9 838" class="thin"/><path d="M354.6 842.5L351.5 844.2" class="pt"/><path d="M350.8 837L348.9 840.3" class="pt"/><path d="M352.2 854.4L356.1 852.1" class="pt"/>
<ellipse cx="217.9" cy="707.7" rx="6.8" ry="10.9" transform="rotate(-30 217.9 707.7)" class="pt"/><path d="M212.5 698.3L223.7 691.8L223.7 691.8A6.8 10.9 -30 0 1 234.6 710.6L223.3 717.1" class="pt"/><path d="M226.4 691.5A6.1 9.8 -30 1 1 236.2 708.4" class="pt"/><path d="M230.7 689A6.1 9.8 -30 1 1 240.5 705.9" class="pt"/><path d="M226.4 691.5L230.7 689" class="pt"/><path d="M236.2 708.4L240.5 705.9" class="pt"/><path d="M227.4 691.3L226.4 691.5" class="pt"/><path d="M236.1 695.2L240.4 692.7" class="pt"/><path d="M238.6 700.5L242.9 698" class="pt"/><path d="M235 691.4L258.8 677.6L258.8 677.6A3.5 5.6 -30 0 1 264.4 687.3L240.6 701" class="pt"/><path d="M240.8 688.1A3.5 5.6 -30 0 1 246.3 697.7" class="th"/><path d="M243.1 686.8A3.5 5.6 -30 0 1 248.6 696.3" class="th"/><path d="M245.5 685.4A3.5 5.6 -30 0 1 251 695" class="th"/><path d="M247.8 684.1A3.5 5.6 -30 0 1 253.3 693.6" class="th"/><path d="M250.2 682.7A3.5 5.6 -30 0 1 255.7 692.2" class="th"/><path d="M252.5 681.3A3.5 5.6 -30 0 1 258 690.9" class="th"/><path d="M254.9 680A3.5 5.6 -30 0 1 260.4 689.5" class="th"/><path d="M257.2 678.6A3.5 5.6 -30 0 1 262.7 688.2" class="th"/>
<ellipse cx="557.4" cy="791.2" rx="4.7" ry="7.8" transform="rotate(-30 557.4 791.2)" class="pt" style="stroke-width:2.6"/>
<path d="M461.5 902.5L461.5 913.5Q466.5 916.5 471.5 913.5L471.5 902.5Q466.5 899.5 461.5 902.5Z" class="pt"/>
<path d="M461.5 904.5Q466.5 907.5 471.5 904.5" class="th"/>
<path d="M461.5 906.8Q466.5 909.8 471.5 906.8" class="th"/>
<path d="M461.5 909.1Q466.5 912.1 471.5 909.1" class="th"/>
<path d="M461.5 911.4Q466.5 914.4 471.5 911.4" class="th"/>
<path d="M461.5 913.7Q466.5 916.7 471.5 913.7" class="th"/>
<path d="M457 862.5l3 1.5M456 866l4 1M455.5 873l4.5 1.2M456 877.5l4 0.8" class="thin"/>
<ellipse cx="89.2" cy="871.4" rx="30.6" ry="53" transform="rotate(-30 89.2 871.4)" class="hv"/><path d="M72.8 819.8A30.6 53 -30 1 1 125.7 911.4" class="hv"/><path d="M61.4 826.4L72.8 819.8" class="hv"/><path d="M114.3 918L125.7 911.4" class="hv"/><ellipse cx="90.7" cy="870.6" rx="24.5" ry="42.5" transform="rotate(-30 90.7 870.6)" class="thin"/><ellipse cx="89.2" cy="871.4" rx="19.6" ry="34" transform="rotate(-30 89.2 871.4)" class="thin"/><ellipse cx="89.2" cy="871.4" rx="17.6" ry="30.5" transform="rotate(-30 89.2 871.4)" class="pt"/><ellipse cx="89.2" cy="871.4" rx="15.6" ry="27" transform="rotate(-30 89.2 871.4)" class="hv"/><path d="M107.4 889.3A14.7 25.5 -30 1 1 77.4 849.1" class="pt"/><path d="M107.2 889.2A14.1 24.5 -30 0 1 79 850" class="pt"/><path d="M107 888.7A13.8 24 -30 0 1 80.8 850.2" class="thin"/>
<path d="M169.7 787.5A33.4 54.7 -30 1 1 145.3 778.6" class="hv"/><path d="M172.2 793.4A30.6 50.1 -30 1 1 148.5 782.8" class="thin"/><path d="M173.5 796.6A29.1 47.7 -30 1 1 150.9 785.1" class="pt"/>
<path d="M144.5 779C148 777.6 153 777.7 156 780.2C159 782.8 159 787.5 156.2 789.6C153.5 791.3 150.3 790.3 148.8 787.7C148 786 147.5 785 146.5 784.6" class="hv"/>
<path d="M178.5 796.5C174.5 792.5 171 789.2 167.8 787.6C164.8 786.5 162.2 788.2 162.2 791.2C162.4 794.5 165.3 797.4 168.4 797.6C170 797.7 171 798.5 172.5 800.5" class="hv"/>
<ellipse cx="151.9" cy="785.6" rx="1.6" ry="2.1" class="thin" transform="rotate(-30 151.9 785.6)"/><ellipse cx="166.5" cy="793" rx="1.6" ry="2.1" class="thin" transform="rotate(-30 166.5 793)"/>
<path d="M231.1 794.9A18.5 29.9 -30 1 1 224.3 783.3" class="ph"/><path d="M227.1 797.3A14 22.6 -30 1 1 219.8 785.3" class="ph"/><path d="M220.9 818.1A14 22.6 -30 0 1 200.4 780.3" class="ph"/><path d="M226.4 782.1A18.5 29.9 -30 0 1 232 821.2" class="phs"/><path d="M231.1 794.9L227.1 797.3" class="phs"/><path d="M224.3 783.3L219.8 785.3" class="phs"/>
<ellipse cx="261.3" cy="771.8" rx="30.7" ry="53" transform="rotate(-30 261.3 771.8)" class="ph"/><path d="M249.6 717.4A30.7 53 -30 1 1 302.6 809.1" class="ph"/><path d="M233.4 726.8L249.6 717.4" class="phs"/><path d="M286.4 818.4L302.6 809.1" class="phs"/><ellipse cx="261.3" cy="771.8" rx="25.8" ry="44.5" transform="rotate(-30 261.3 771.8)" class="pt"/><ellipse cx="262.3" cy="771.2" rx="23.5" ry="40.5" transform="rotate(-30 262.3 771.2)" class="thin"/><ellipse cx="262.3" cy="771.2" rx="20.6" ry="35.5" transform="rotate(-30 262.3 771.2)" class="pt"/><ellipse cx="261.3" cy="771.8" rx="15.1" ry="26" transform="rotate(-30 261.3 771.8)" class="pt"/><path d="M277.4 791A15.1 26 -30 0 1 252.1 749.2" class="pt"/><circle cx="244" cy="736.3" r="4.6" class="thin" fill="#fff"/><circle cx="282.7" cy="805" r="4.6" class="thin" fill="#fff"/>
</svg>
<svg id="lbl" width="1269" height="1007" viewBox="0 0 1269 1007">
<text x="484.9" y="401.2">070</text><text x="227.3" y="516.3">010</text><text x="121.3" y="622.7">050</text><text x="120.5" y="652.1">060</text><text x="476.9" y="535.7">040</text><text x="565.1" y="673.7">040</text><text x="129.7" y="710.1">030</text><text x="97.0" y="747.1">100</text><text x="49.7" y="774.1">090</text><text x="651.5" y="759.3">070</text><text x="551.0" y="840.9">080</text><text x="359.0" y="886.0">050</text><text x="322.0" y="905.7">060</text><text x="499.3" y="907.9">020</text>
<g id="fig"><text transform="translate(710.3 802.6) scale(.83 1)">Fig.No.</text><text transform="translate(710.3 822.8) scale(.86 1)">C110XX</text>
<text transform="translate(1039.8 834.3) scale(.83 1)">Fig.No.</text><text transform="translate(1039.8 855.7) scale(.86 1)">D215XX</text></g>
<text x="878.5" y="909.8" style="font-size:12.5px;letter-spacing:.6px">3C291-026-14</text>
</svg>
<div id="foot">A:M8540DTH B:M9540DTH C:M9540DTH</div>
</body></html>
